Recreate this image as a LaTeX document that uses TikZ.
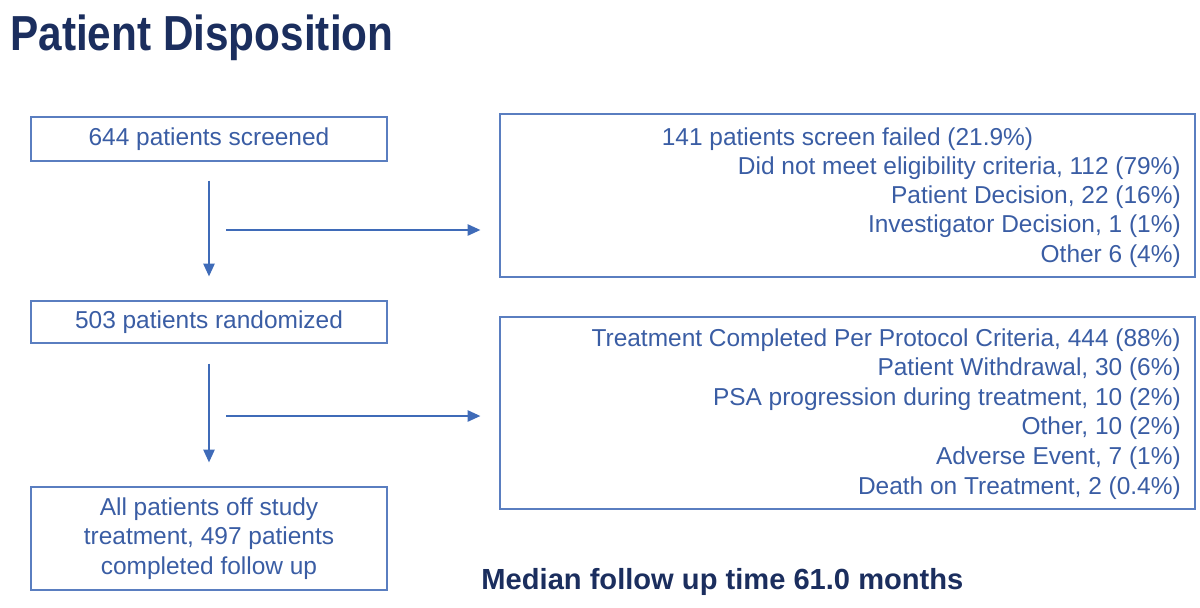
\documentclass[tikz,border=0pt]{standalone}
\usepackage{fontspec}
\setmainfont{Liberation Sans}
\usepackage{graphicx}
\usetikzlibrary{positioning, calc, arrows.meta}

\definecolor{boxtext}{HTML}{3A5DA4}
\definecolor{boxline}{HTML}{5A7EC0}
\definecolor{arrowblue}{HTML}{3F6BB8}
\definecolor{navy}{HTML}{1B2E5E}

\begin{document}
\begin{tikzpicture}[
    flowbox/.style   = {rectangle, draw=boxline, line width=0.9pt,
                        text=boxtext, font=\fontsize{17.4}{21}\selectfont,
                        align=center, inner sep=0pt, minimum width=8.9cm},
    listbox/.style   = {rectangle, draw=boxline, line width=0.9pt,
                        inner sep=0pt, minimum width=17.375cm},
    itemlbl/.style   = {text=boxtext, font=\fontsize{17.4}{21}\selectfont,
                        inner sep=0pt},
    conn/.style      = {line width=1.1pt, draw=arrowblue,
                        -{Triangle[length=9pt, width=8pt]}},
    titlelbl/.style  = {text=navy, font=\fontsize{35}{40}\selectfont\bfseries,
                        inner sep=0pt},
    notelbl/.style   = {text=navy, font=\fontsize{20.7}{24}\selectfont\bfseries,
                        inner sep=0pt},
]

%% ============================================================
%% COORDINATES
%% ============================================================
\def\xL{5.225}
\def\xR{21.1875}
\def\xTxt{29.525}

\useasboundingbox (0,0) rectangle (30,-15.175);

%% ============================================================
%% TITLE
%% ============================================================
\node[titlelbl, anchor=base west] (title) at (0.25,-1.25)
    {\scalebox{0.86}[1]{Patient Disposition}};

%% ============================================================
%% LEFT COLUMN
%% ============================================================
\node[flowbox, minimum height=1.1cm]   (scr)  at (\xL,-3.475)  {644 patients screened};
\node[flowbox, minimum height=1.05cm]  (rand) at (\xL,-8.05)   {503 patients randomized};
\node[flowbox, minimum height=2.575cm] (fin)  at (\xL,-13.4625)
    {All patients off study\\treatment, 497 patients\\completed follow up};

%% ============================================================
%% RIGHT COLUMN: SCREEN FAILURES
%% ============================================================
\node[listbox, minimum height=4.075cm] (fail) at (\xR,-4.8875) {};
\node[itemlbl, anchor=base]      (f1) at (\xR,-3.625)    {141 patients screen failed (21.9\%)};
\node[itemlbl, anchor=base east] (f2) at (\xTxt,-4.3575) {Did not meet eligibility criteria, 112 (79\%)};
\node[itemlbl, anchor=base east] (f3) at (\xTxt,-5.09)   {Patient Decision, 22 (16\%)};
\node[itemlbl, anchor=base east] (f4) at (\xTxt,-5.8225) {Investigator Decision, 1 (1\%)};
\node[itemlbl, anchor=base east] (f5) at (\xTxt,-6.555)  {Other 6 (4\%)};

%% ============================================================
%% RIGHT COLUMN: TREATMENT OUTCOME
%% ============================================================
\node[listbox, minimum height=4.8cm] (trt) at (\xR,-10.325) {};
\node[itemlbl, anchor=base east] (t1) at (\xTxt,-8.65)   {Treatment Completed Per Protocol Criteria, 444 (88\%)};
\node[itemlbl, anchor=base east] (t2) at (\xTxt,-9.39)   {Patient Withdrawal, 30 (6\%)};
\node[itemlbl, anchor=base east] (t3) at (\xTxt,-10.13)  {PSA progression during treatment, 10 (2\%)};
\node[itemlbl, anchor=base east] (t4) at (\xTxt,-10.87)  {Other, 10 (2\%)};
\node[itemlbl, anchor=base east] (t5) at (\xTxt,-11.61)  {Adverse Event, 7 (1\%)};
\node[itemlbl, anchor=base east] (t6) at (\xTxt,-12.35)  {Death on Treatment, 2 (0.4\%)};

%% ============================================================
%% CONNECTIONS
%% ============================================================
\draw[conn, shorten <=0.475cm, shorten >=0.6cm] (scr.south)  -- (rand.north);
\draw[conn, shorten <=0.5cm,   shorten >=0.6cm] (rand.south) -- (fin.north);

\coordinate (brA) at (5.65,-5.75);
\coordinate (brB) at (5.65,-10.4);
\draw[conn, shorten >=0.475cm] (brA) -- (brA -| fail.west);
\draw[conn, shorten >=0.475cm] (brB) -- (brB -| trt.west);

%% ============================================================
%% FOOTNOTE
%% ============================================================
\node[notelbl, anchor=base] (note) at (18.06,-14.725)
    {Median follow up time 61.0 months};

\end{tikzpicture}
\end{document}
